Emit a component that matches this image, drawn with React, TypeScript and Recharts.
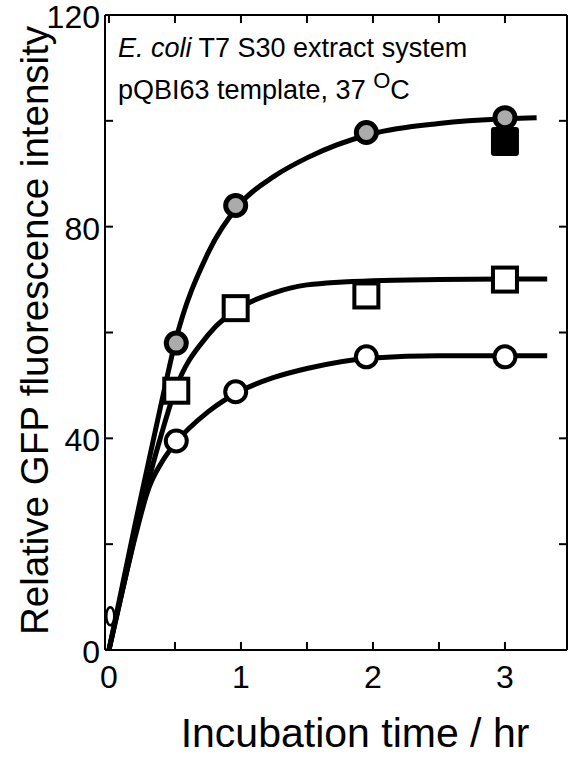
import React from 'react';
import {
  ComposedChart,
  Line,
  Scatter,
  XAxis,
  YAxis,
  Label,
  Customized,
} from 'recharts';

const FONT = '"Liberation Sans", Arial, Helvetica, sans-serif';

// measured points (incubation time in hr, relative intensity)
const sampleTimes = [0.51, 0.96, 1.95, 3.0];
const stippledCircleValues = [58, 84, 97.8, 100.6];
const openSquareValues = [49, 64.6, 67, 70];
const openCircleValues = [39.5, 48.8, 55.4, 55.4];
const solidSquareTimes = [3.0];
const solidSquareValues = [96.2];
const zeroTimes = [0.01];
const zeroValues = [6.4];

// fitted curves
const stippledFitTimes = [0, 0.1, 0.2, 0.3, 0.4, 0.5, 0.75, 1, 1.25, 1.5, 2, 2.5, 3, 3.24];
const stippledFitValues = [0, 12, 24, 35.5, 47, 58, 75, 84.5, 89.5, 93, 97.6, 99.5, 100.4, 100.6];
const squareFitTimes = [0, 0.1, 0.2, 0.3, 0.4, 0.5, 0.75, 1, 1.25, 1.5, 2, 2.5, 3, 3.32];
const squareFitValues = [0, 11, 22, 32, 41, 49, 59.5, 64.8, 67.5, 69, 69.8, 70, 70.1, 70.1];
const circleFitTimes = [0, 0.1, 0.2, 0.3, 0.4, 0.5, 0.75, 1, 1.25, 1.5, 2, 2.5, 3, 3.32];
const circleFitValues = [0, 11, 21.5, 30.5, 35.5, 39, 45, 49, 51.5, 53.2, 55.2, 55.6, 55.6, 55.6];

// axes
const xTicks = [0, 0.5, 1, 1.5, 2, 2.5, 3];
const xLabelled = [0, 1, 2, 3];
const yTicks = [0, 20, 40, 60, 80, 100, 120];
const yLabelled = [0, 40, 80, 120];

const toPoints = (ts: number[], vs: number[]) => ts.map((t, i) => ({ t, v: vs[i] }));

const BottomTick = ({ x, y, payload }: any) => (
  <g>
    <line x1={x} x2={x} y1={y} y2={y - 8} stroke="#000" strokeWidth={2} />
    {xLabelled.includes(payload.value) && (
      <text x={x} y={y + 38} textAnchor="middle" fontSize={32} fontFamily={FONT} fill="#000">
        {payload.value}
      </text>
    )}
  </g>
);

const TopTick = ({ x, y }: any) => (
  <line x1={x} x2={x} y1={y} y2={y + 8} stroke="#000" strokeWidth={2} />
);

const LeftTick = ({ x, y, payload }: any) => (
  <g>
    <line x1={x} x2={x + 8} y1={y} y2={y} stroke="#000" strokeWidth={2} />
    {yLabelled.includes(payload.value) && (
      <text x={x - 5} y={y + 13} textAnchor="end" fontSize={32} fontFamily={FONT} fill="#000">
        {payload.value}
      </text>
    )}
  </g>
);

const RightTick = ({ x, y }: any) => (
  <line x1={x} x2={x - 8} y1={y} y2={y} stroke="#000" strokeWidth={2} />
);

const StippledCircle = ({ cx, cy }: any) => (
  <circle cx={cx} cy={cy} r={10} fill="#ababab" stroke="#000" strokeWidth={5} />
);
const OpenCircle = ({ cx, cy }: any) => (
  <circle cx={cx} cy={cy} r={10.5} fill="#fff" stroke="#000" strokeWidth={4} />
);
const OpenSquare = ({ cx, cy }: any) => (
  <rect x={cx - 12} y={cy - 12} width={24} height={24} fill="#fff" stroke="#000" strokeWidth={4} />
);
const SolidSquare = ({ cx, cy }: any) => (
  <rect x={cx - 14} y={cy - 14} width={28} height={29} rx={3} fill="#000" />
);
const SmallEllipse = ({ cx, cy }: any) => (
  <ellipse cx={cx} cy={cy} rx={4} ry={9} fill="#fff" stroke="#000" strokeWidth={2.5} />
);

const Annotation = () => (
  <g fontFamily={FONT} fontSize={27} fill="#000">
    <text x={118} y={57}>
      <tspan fontStyle="italic">E. coli</tspan> T7 S30 extract system
    </text>
    <text x={118} y={99}>
      pQBI63 template, 37{' '}
      <tspan fontSize={22} dy={-11}>O</tspan>
      <tspan dy={11}>C</tspan>
    </text>
  </g>
);

export default function App() {
  return (
    <div style={{ position: 'absolute', left: 0, top: 0, background: '#fff' }}>
      <ComposedChart width={570} height={758} margin={{ top: 0, right: 0, bottom: 0, left: 0 }}>
        <XAxis
          xAxisId="bottom"
          dataKey="t"
          type="number"
          domain={[-0.03, 3.47]}
          ticks={xTicks}
          interval={0}
          height={108}
          tickSize={0}
          tickMargin={0}
          tickLine={false}
          tick={<BottomTick />}
          axisLine={{ stroke: '#000', strokeWidth: 2 }}
          allowDataOverflow
        >
          <Label
            content={({ viewBox }: any) => (
              <text
                x={viewBox.x + viewBox.width / 2 + 19}
                y={viewBox.y + 97}
                textAnchor="middle"
                fontSize={41}
                fontFamily={FONT}
                fill="#000"
              >
                Incubation time / hr
              </text>
            )}
          />
        </XAxis>
        <XAxis
          xAxisId="top"
          orientation="top"
          dataKey="t"
          type="number"
          domain={[-0.03, 3.47]}
          ticks={xTicks}
          interval={0}
          height={15}
          tickSize={0}
          tickMargin={0}
          tickLine={false}
          tick={<TopTick />}
          axisLine={{ stroke: '#000', strokeWidth: 2 }}
          allowDataOverflow
        />
        <YAxis
          yAxisId="left"
          type="number"
          domain={[0, 120]}
          ticks={yTicks}
          interval={0}
          width={105}
          tickSize={0}
          tickMargin={0}
          tickLine={false}
          tick={<LeftTick />}
          axisLine={{ stroke: '#000', strokeWidth: 2 }}
          allowDataOverflow
        >
          <Label
            content={({ viewBox }: any) => {
              const lx = viewBox.x + 48;
              const ly = viewBox.y + viewBox.height / 2 - 2;
              return (
                <text
                  x={lx}
                  y={ly}
                  transform={`rotate(-90, ${lx}, ${ly})`}
                  textAnchor="middle"
                  fontSize={38.5}
                  fontFamily={FONT}
                  fill="#000"
                >
                  Relative GFP fluorescence intensity
                </text>
              );
            }}
          />
        </YAxis>
        <YAxis
          yAxisId="right"
          orientation="right"
          type="number"
          domain={[0, 120]}
          ticks={yTicks}
          interval={0}
          width={3}
          tickSize={0}
          tickMargin={0}
          tickLine={false}
          tick={<RightTick />}
          axisLine={{ stroke: '#000', strokeWidth: 2 }}
          allowDataOverflow
        />

        <Line
          xAxisId="bottom"
          yAxisId="left"
          data={toPoints(circleFitTimes, circleFitValues)}
          dataKey="v"
          type="monotone"
          stroke="#000"
          strokeWidth={5}
          dot={false}
          activeDot={false}
          isAnimationActive={false}
        />
        <Line
          xAxisId="bottom"
          yAxisId="left"
          data={toPoints(squareFitTimes, squareFitValues)}
          dataKey="v"
          type="monotone"
          stroke="#000"
          strokeWidth={5}
          dot={false}
          activeDot={false}
          isAnimationActive={false}
        />
        <Line
          xAxisId="bottom"
          yAxisId="left"
          data={toPoints(stippledFitTimes, stippledFitValues)}
          dataKey="v"
          type="monotone"
          stroke="#000"
          strokeWidth={5}
          dot={false}
          activeDot={false}
          isAnimationActive={false}
        />

        <Scatter
          xAxisId="bottom"
          yAxisId="left"
          data={toPoints(zeroTimes, zeroValues)}
          dataKey="v"
          shape={<SmallEllipse />}
          isAnimationActive={false}
        />
        <Scatter
          xAxisId="bottom"
          yAxisId="left"
          data={toPoints(solidSquareTimes, solidSquareValues)}
          dataKey="v"
          shape={<SolidSquare />}
          isAnimationActive={false}
        />
        <Scatter
          xAxisId="bottom"
          yAxisId="left"
          data={toPoints(sampleTimes, stippledCircleValues)}
          dataKey="v"
          shape={<StippledCircle />}
          isAnimationActive={false}
        />
        <Scatter
          xAxisId="bottom"
          yAxisId="left"
          data={toPoints(sampleTimes, openSquareValues)}
          dataKey="v"
          shape={<OpenSquare />}
          isAnimationActive={false}
        />
        <Scatter
          xAxisId="bottom"
          yAxisId="left"
          data={toPoints(sampleTimes, openCircleValues)}
          dataKey="v"
          shape={<OpenCircle />}
          isAnimationActive={false}
        />

        <Customized component={Annotation} />
      </ComposedChart>
    </div>
  );
}
